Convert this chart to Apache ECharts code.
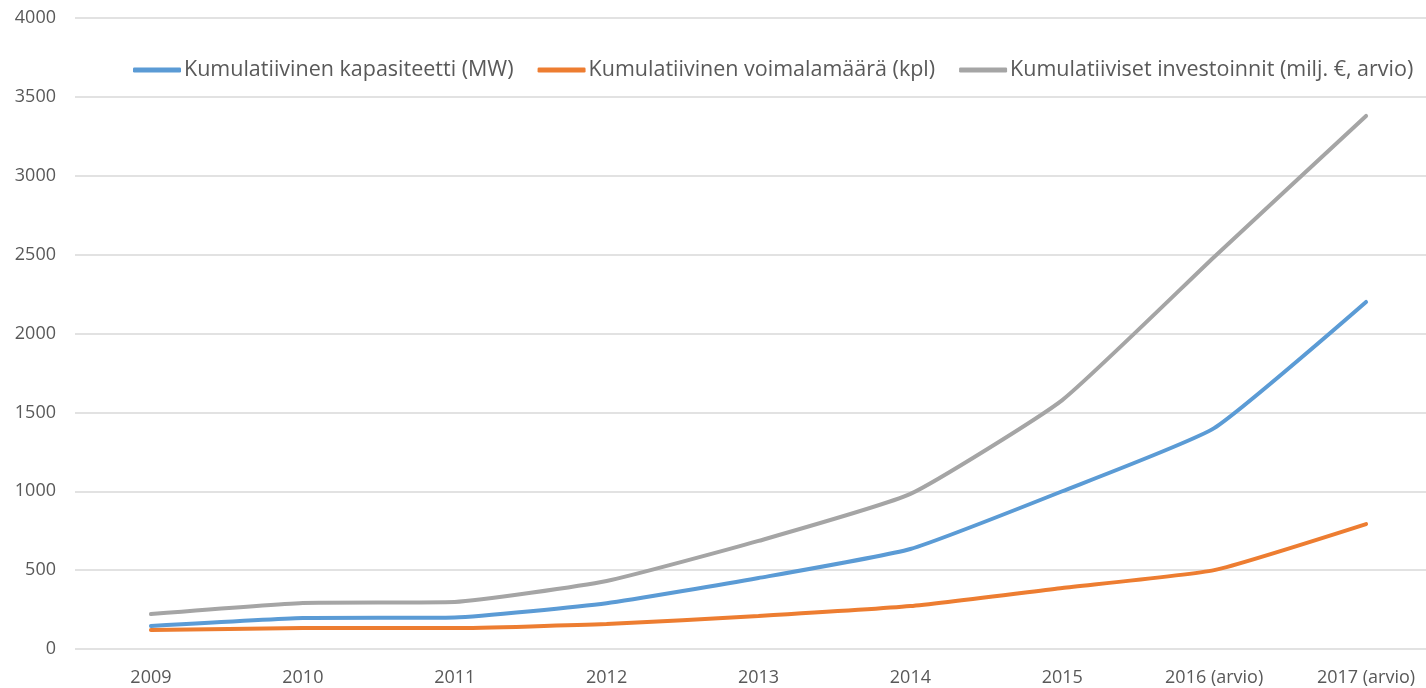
<!DOCTYPE html>
<html><head><meta charset="utf-8">
<script src="https://cdn.jsdelivr.net/npm/echarts@6/dist/echarts.min.js"></script>
<style>html,body{margin:0;padding:0;background:#fff;overflow:hidden}#c{width:1442px;height:688px}</style>
</head><body><div id="c"></div>
<script>
const categories = ['2009','2010','2011','2012','2013','2014','2015','2016 (arvio)','2017 (arvio)'];
const capacity = [146,196,200,290,450,634,1000,1400,2200];
const plants = [120,133,133,158,209,272,387,500,792];
const investments = [222,292,298,431,685,983,1578,2485,3379];
const seriesNames = ['Kumulatiivinen kapasiteetti (MW)','Kumulatiivinen voimalamäärä (kpl)','Kumulatiiviset investoinnit (milj. €, arvio)'];
const colors = ['#5B9BD5','#ED7D31','#A5A5A5'];
const font = "'Open Sans', 'Noto Sans', sans-serif";
const chart = echarts.init(document.getElementById('c'));
const mk = (name, data, color) => ({
  name, type:'line', data, symbol:'none', smooth:0.15,
  lineStyle:{width:4, color, cap:'round'}, itemStyle:{color}
});
chart.setOption({
  animation:false,
  textStyle:{fontFamily:font},
  color:colors,
  grid:{left:75, right:0, top:18, bottom:39},
  legend:{
    top:54, left:128, itemWidth:48, itemHeight:5, itemGap:24, icon:'roundRect',
    textStyle:{color:'#595959', fontSize:21.5, fontFamily:font, padding:[0,0,0,-2]},
    data:seriesNames
  },
  xAxis:{
    type:'category', data:categories, boundaryGap:true,
    axisLine:{show:false}, axisTick:{show:false},
    axisLabel:{color:'#595959', fontSize:18, margin:20, fontFamily:font, interval:0}
  },
  yAxis:{
    type:'value', min:0, max:4000, interval:500,
    axisLine:{show:false}, axisTick:{show:false},
    axisLabel:{color:'#595959', fontSize:18, margin:19, fontFamily:font, formatter:v=>String(v)},
    splitLine:{lineStyle:{color:'#D9D9D9', width:1.5}}
  },
  series:[mk(seriesNames[0],capacity,colors[0]), mk(seriesNames[1],plants,colors[1]), mk(seriesNames[2],investments,colors[2])]
});
</script></body></html>
